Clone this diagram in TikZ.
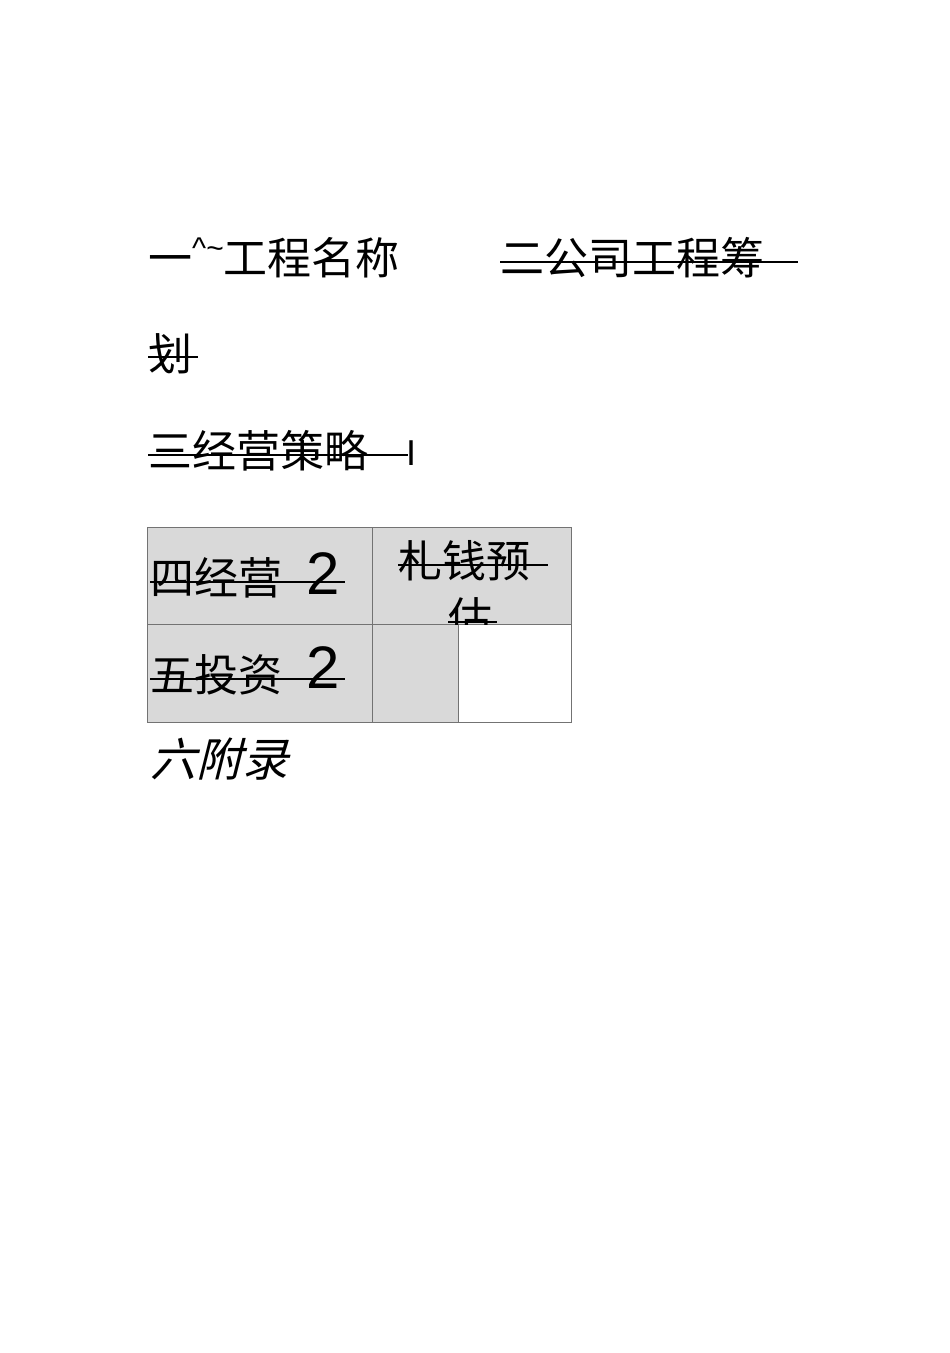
\documentclass[tikz,border=0pt]{standalone}
\usepackage{fontspec}
\newfontfamily\cjk{Noto Sans CJK SC}
\newfontfamily\cjkit[FakeSlant=0.25]{Noto Sans CJK SC}
\newfontfamily\arial{Liberation Sans}
\begin{document}
\begin{tikzpicture}[x=1pt,y=-1pt,
  txt/.style={anchor=base west,inner sep=0pt,font=\cjk\fontsize{44}{44}\selectfont},
  strike/.style={line width=2pt},
  cell/.style={draw=gray!90!black,line width=0.8pt,fill=gray!30}]
\useasboundingbox (0,0) rectangle (950,1353);
\node[txt] (l1a) at (148,274) {一\raisebox{0.35em}{\arial\fontsize{30}{30}\selectfont\^{}\~{}}工程名称};
\node[txt] (l1b) at (500,274) {二公司工程筹};
\draw[strike] (500,262) -- (798,262);
\node[txt] (l2) at (148,370) {划};
\draw[strike] (148,357) -- (198,357);
\node[txt] (l3) at (148,467) {三经营策略};
\node[anchor=base west,inner sep=0pt,font=\arial\fontsize{36}{36}\selectfont] (l3i) at (406,465) {I};
\draw[strike] (148,455) -- (408,455);
% table
\fill[gray!30] (147,527) rectangle (571,624);
\fill[gray!30] (147,624) rectangle (458,722);
\draw[gray!90!black,line width=0.8pt] (147,527) rectangle (571,722) (372,527) -- (372,722) (147,624) -- (571,624) (458,624) -- (458,722);
\node[txt] (r1) at (150,594) {四经营};
\node[anchor=base west,inner sep=0pt,font=\arial\fontsize{60}{60}\selectfont] (r1n) at (306,594) {2};
\draw[strike] (150,582) -- (345,582);
\node[txt] (r2) at (150,691) {五投资};
\node[anchor=base west,inner sep=0pt,font=\arial\fontsize{60}{60}\selectfont] (r2n) at (306,688) {2};
\draw[strike] (150,679) -- (345,679);
\node[txt] (c1) at (398,577) {札钱预};
\draw[strike] (398,565) -- (548,565);
\begin{scope}
\clip (372,527) rectangle (571,624);
\node[txt] (c2) at (448,634) {估};
\end{scope}
\draw[strike] (448,622) -- (497,622);
\node[anchor=base west,inner sep=0pt,font=\cjkit\fontsize{46}{46}\selectfont] (l6) at (150,776) {六附录};
\end{tikzpicture}
\end{document}
